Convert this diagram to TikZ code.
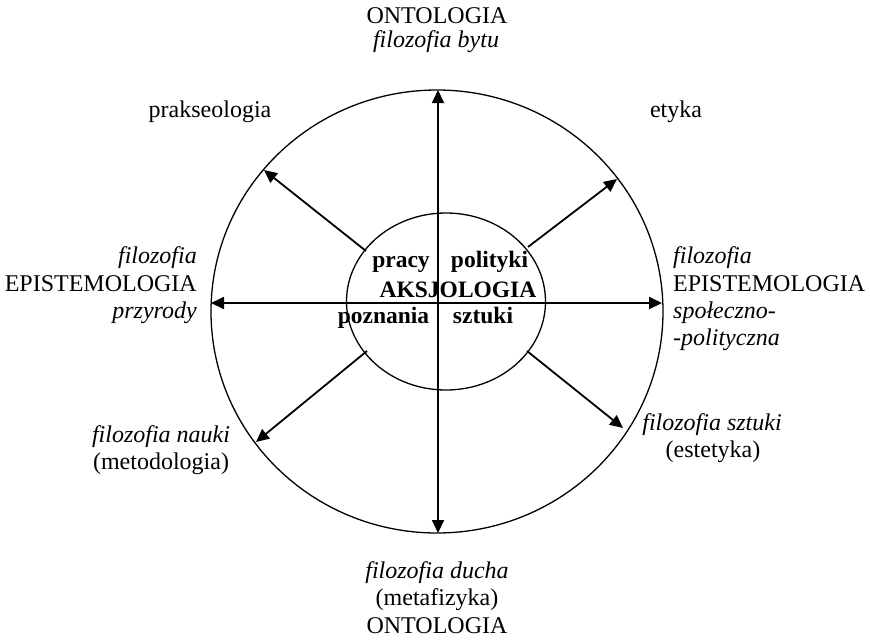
\documentclass[tikz,border=0pt]{standalone}
\usepackage{fontspec}
\setmainfont{Liberation Serif}
\usetikzlibrary{arrows.meta}
\begin{document}
\begin{tikzpicture}[x=1pt,y=-1pt,
  lbl/.style={anchor=base, inner sep=0pt, font=\fontsize{24}{28}\selectfont},
  ilbl/.style={lbl, font=\fontsize{24}{28}\selectfont\itshape},
  blbl/.style={lbl, font=\fontsize{23.5}{28}\selectfont\bfseries},
  tipstyle/.style={line width=1.8pt},
  arr/.style={tipstyle, -{Triangle[length=13pt,width=12pt]}},
  darr/.style={tipstyle, {Triangle[length=13pt,width=12pt]}-{Triangle[length=13pt,width=12pt]}},
  ring/.style={line width=1.3pt}]
\useasboundingbox (0,0) rectangle (870,643);
\fill[white] (0,0) rectangle (870,643);

% rings
\draw[ring] (437,311.5) ellipse [x radius=226, y radius=221.5];
\draw[ring] (446,301.5) ellipse [x radius=99.5, y radius=88.5];

% connector end points
\coordinate (top) at (438,90);
\coordinate (bot) at (438,533);
\coordinate (lft) at (211,303);
\coordinate (rgt) at (662,303);
\coordinate (ulS) at (366,251);
\coordinate (ulE) at (264,170);
\coordinate (urS) at (528,247);
\coordinate (urE) at (617,179);
\coordinate (llS) at (367,351);
\coordinate (llE) at (256,442);
\coordinate (lrS) at (527,351);
\coordinate (lrE) at (623,428);

\draw[darr] (top) -- (bot);
\draw[darr] (lft) -- (rgt);
\draw[arr] (ulS) -- (ulE);
\draw[arr] (urS) -- (urE);
\draw[arr] (llS) -- (llE);
\draw[arr] (lrS) -- (lrE);

% top
\node[lbl] (ont1) at (437,23) {ONTOLOGIA};
\node[ilbl] (byt) at (436,47) {filozofia bytu};
% corners
\node[lbl] (prak) at (210,117) {prakseologia};
\node[lbl] (ety) at (676,117) {etyka};
% left block
\node[ilbl, anchor=base east] (lf1) at (197,263) {filozofia};
\node[lbl, anchor=base east] (lf2) at (197,291) {EPISTEMOLOGIA};
\node[ilbl, anchor=base east] (lf3) at (197,318) {przyrody};
% right block
\node[ilbl, anchor=base west] (rf1) at (673,263) {filozofia};
\node[lbl, anchor=base west] (rf2) at (673,291) {EPISTEMOLOGIA};
\node[ilbl, anchor=base west] (rf3) at (673,318) {społeczno-};
\node[ilbl, anchor=base west] (rf4) at (673,345) {-polityczna};
% lower corners
\node[ilbl] (nau1) at (161,442) {filozofia nauki};
\node[lbl] (nau2) at (161,469) {(metodologia)};
\node[ilbl] (szt1) at (712,430) {filozofia sztuki};
\node[lbl] (szt2) at (713,457) {(estetyka)};
% bottom
\node[ilbl] (duch) at (437,578) {filozofia ducha};
\node[lbl] (meta) at (437,605) {(metafizyka)};
\node[lbl] (ont2) at (437,633) {ONTOLOGIA};
% inner
\node[blbl] (prac) at (401,267) {pracy};
\node[blbl] (poli) at (489.5,267) {polityki};
\node[blbl] (aksj) at (458,297) {AKSJOLOGIA};
\node[blbl] (pozn) at (383.5,323) {poznania};
\node[blbl] (sztu) at (483,323) {sztuki};
\end{tikzpicture}
\end{document}
